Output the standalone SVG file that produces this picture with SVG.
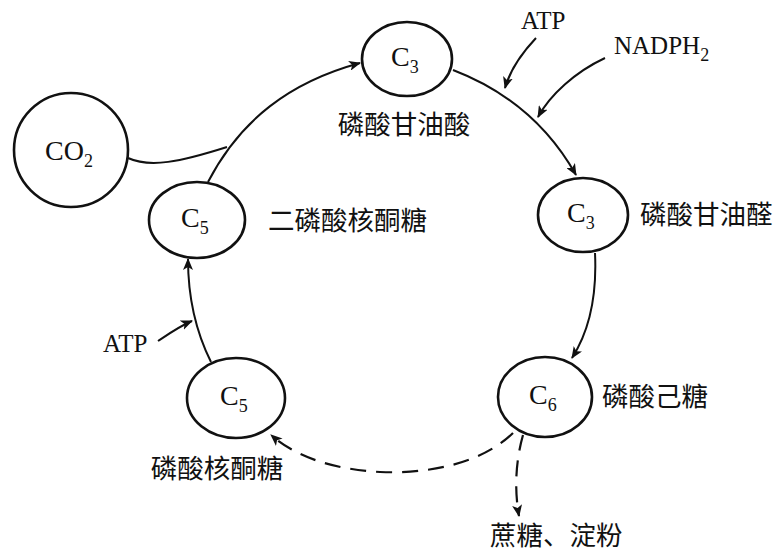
<svg xmlns="http://www.w3.org/2000/svg" width="778" height="555" viewBox="0 0 778 555">
<style>
.n{fill:none;stroke:#111;stroke-width:2.6}
.c{fill:none;stroke:#111;stroke-width:2}
.d{fill:none;stroke:#111;stroke-width:2.2;stroke-dasharray:16 10}
.t{font-family:"Liberation Serif","DejaVu Serif",serif;font-size:25px;fill:#111}
.k{font-size:28px}
.s{font-size:18px}
.z{font-family:"Noto Sans CJK SC","Noto Sans",sans-serif;font-size:26.5px;fill:#111}
</style>
<defs>
<marker id="a" viewBox="0 0 12 10" refX="11" refY="5" markerWidth="12" markerHeight="10" markerUnits="userSpaceOnUse" orient="auto">
<path d="M0,0 L12,5 L0,10 L3,5 z" fill="#111"/>
</marker>
</defs>
<rect width="778" height="555" fill="#fff"/>
<g id="connectors">
<path class="c" d="M208,182 C240,120 290,82 360,63" marker-end="url(#a)"/>
<path class="c" d="M128,158 C150,168 180,162 227,147"/>
<path class="c" d="M453,70 C500,88 545,120 576,175" marker-end="url(#a)"/>
<path class="c" d="M536,38 C520,55 510,70 505,88" marker-end="url(#a)"/>
<path class="c" d="M605,58 C575,72 550,95 538,117" marker-end="url(#a)"/>
<path class="c" d="M595,253 C597,295 590,330 572,358" marker-end="url(#a)"/>
<path class="c" d="M211,362 C195,330 188,295 188,259" marker-end="url(#a)"/>
<path class="c" d="M158,341 C170,333 180,326 192,321" marker-end="url(#a)"/>
<path class="d" d="M513,433 C480,465 425,474 380,472 C330,469 295,456 271,435" marker-end="url(#a)"/>
<path class="d" d="M523,435 C516,460 514,488 519,516" marker-end="url(#a)"/>
</g>
<g id="co2">
<circle class="n" cx="71" cy="150" r="57"/>
<text class="t k" x="45" y="160">CO<tspan class="s" dy="7">2</tspan></text>
</g>
<g id="c3a">
<ellipse class="n" cx="407" cy="59" rx="45" ry="37"/>
<text class="t k" x="391" y="66">C<tspan class="s" dy="7">3</tspan></text>
<text class="z" x="404" y="134" text-anchor="middle">磷酸甘油酸</text>
</g>
<g id="c3b">
<ellipse class="n" cx="583" cy="215" rx="45" ry="37"/>
<text class="t k" x="567" y="222">C<tspan class="s" dy="7">3</tspan></text>
<text class="z" x="640" y="224">磷酸甘油醛</text>
</g>
<g id="c6">
<ellipse class="n" cx="545" cy="397" rx="47" ry="40"/>
<text class="t k" x="529" y="404">C<tspan class="s" dy="7">6</tspan></text>
<text class="z" x="602" y="406">磷酸己糖</text>
</g>
<g id="c5b">
<ellipse class="n" cx="236" cy="398" rx="49" ry="40"/>
<text class="t k" x="220" y="405">C<tspan class="s" dy="7">5</tspan></text>
<text class="z" x="217" y="478" text-anchor="middle">磷酸核酮糖</text>
</g>
<g id="c5a">
<ellipse class="n" cx="197" cy="220" rx="48" ry="38"/>
<text class="t k" x="181" y="227">C<tspan class="s" dy="7">5</tspan></text>
<text class="z" x="268" y="230">二磷酸核酮糖</text>
</g>
<g id="labels">
<text class="t" x="521" y="29">ATP</text>
<text class="t" x="614" y="54">NADPH<tspan class="s" dy="7">2</tspan></text>
<text class="t" x="103" y="352">ATP</text>
<text class="z" x="490" y="545">蔗糖、淀粉</text>
</g>
</svg>
